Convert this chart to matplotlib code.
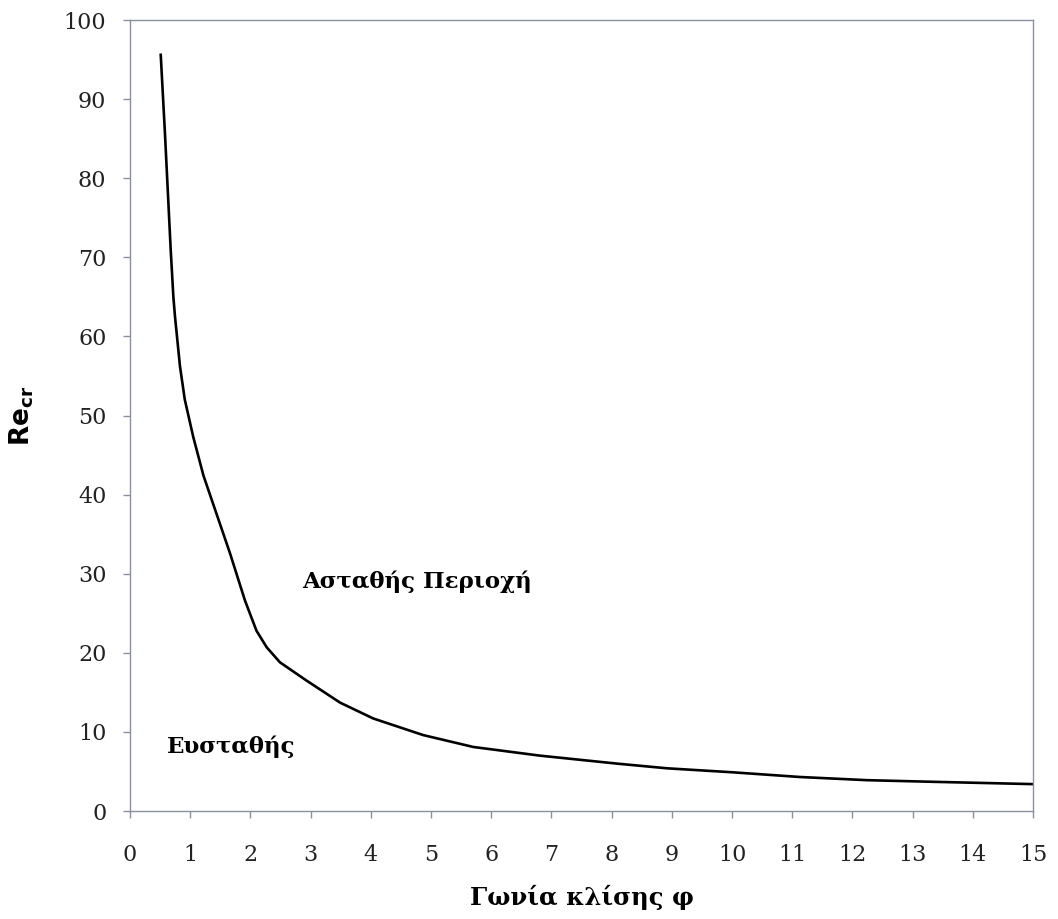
import numpy as np
import matplotlib.pyplot as plt

# values
phi = [0.51, 0.58, 0.676, 0.72, 0.747, 0.83, 0.91, 1.05, 1.22, 1.44, 1.66,
       1.91, 2.10, 2.27, 2.49, 2.93, 3.49, 4.04, 4.87, 5.70, 6.81, 8.08,
       8.92, 10.0, 11.13, 12.24, 13.3, 15.0]
re_cr = [95.6, 85.7, 70.9, 65.0, 62.5, 56.2, 52.0, 47.3, 42.4, 37.5, 32.6,
         26.6, 22.8, 20.7, 18.8, 16.5, 13.7, 11.7, 9.6, 8.1, 7.0, 6.0,
         5.4, 4.9, 4.3, 3.9, 3.7, 3.4]

x_ticks = list(range(0, 16))
y_ticks = list(range(0, 101, 10))

plt.rcParams['font.family'] = ['DejaVu Serif']
frame = '#8a90a0'

fig = plt.figure(figsize=(10.58, 9.19), dpi=100)
ax = fig.add_axes([0.1229, 0.1175, 0.8535, 0.8607])

ax.plot(phi, re_cr, color='black', lw=1.9)

ax.set_xlim(0, 15)
ax.set_ylim(0, 100)
ax.set_xticks(x_ticks)
ax.set_yticks(y_ticks)
ax.tick_params(axis='both', direction='out', length=5, width=1, color=frame,
               labelsize=16, labelcolor='#222222')
ax.tick_params(axis='x', pad=19)
ax.tick_params(axis='y', pad=12)
for s in ax.spines.values():
    s.set_color(frame)
    s.set_linewidth(1)

ax.set_xlabel('Γωνία κλίσης φ', fontsize=17.5, fontweight='bold', labelpad=13)
ax.set_ylabel(r'$\mathbf{Re_{cr}}$', fontsize=19, labelpad=20)

ax.text(0.61, 8.1, 'Ευσταθής', fontsize=16.5, fontweight='bold', va='center')
ax.text(2.86, 29, 'Ασταθής Περιοχή', fontsize=16.5, fontweight='bold', va='center')

fig.savefig('out.png', dpi=100)
